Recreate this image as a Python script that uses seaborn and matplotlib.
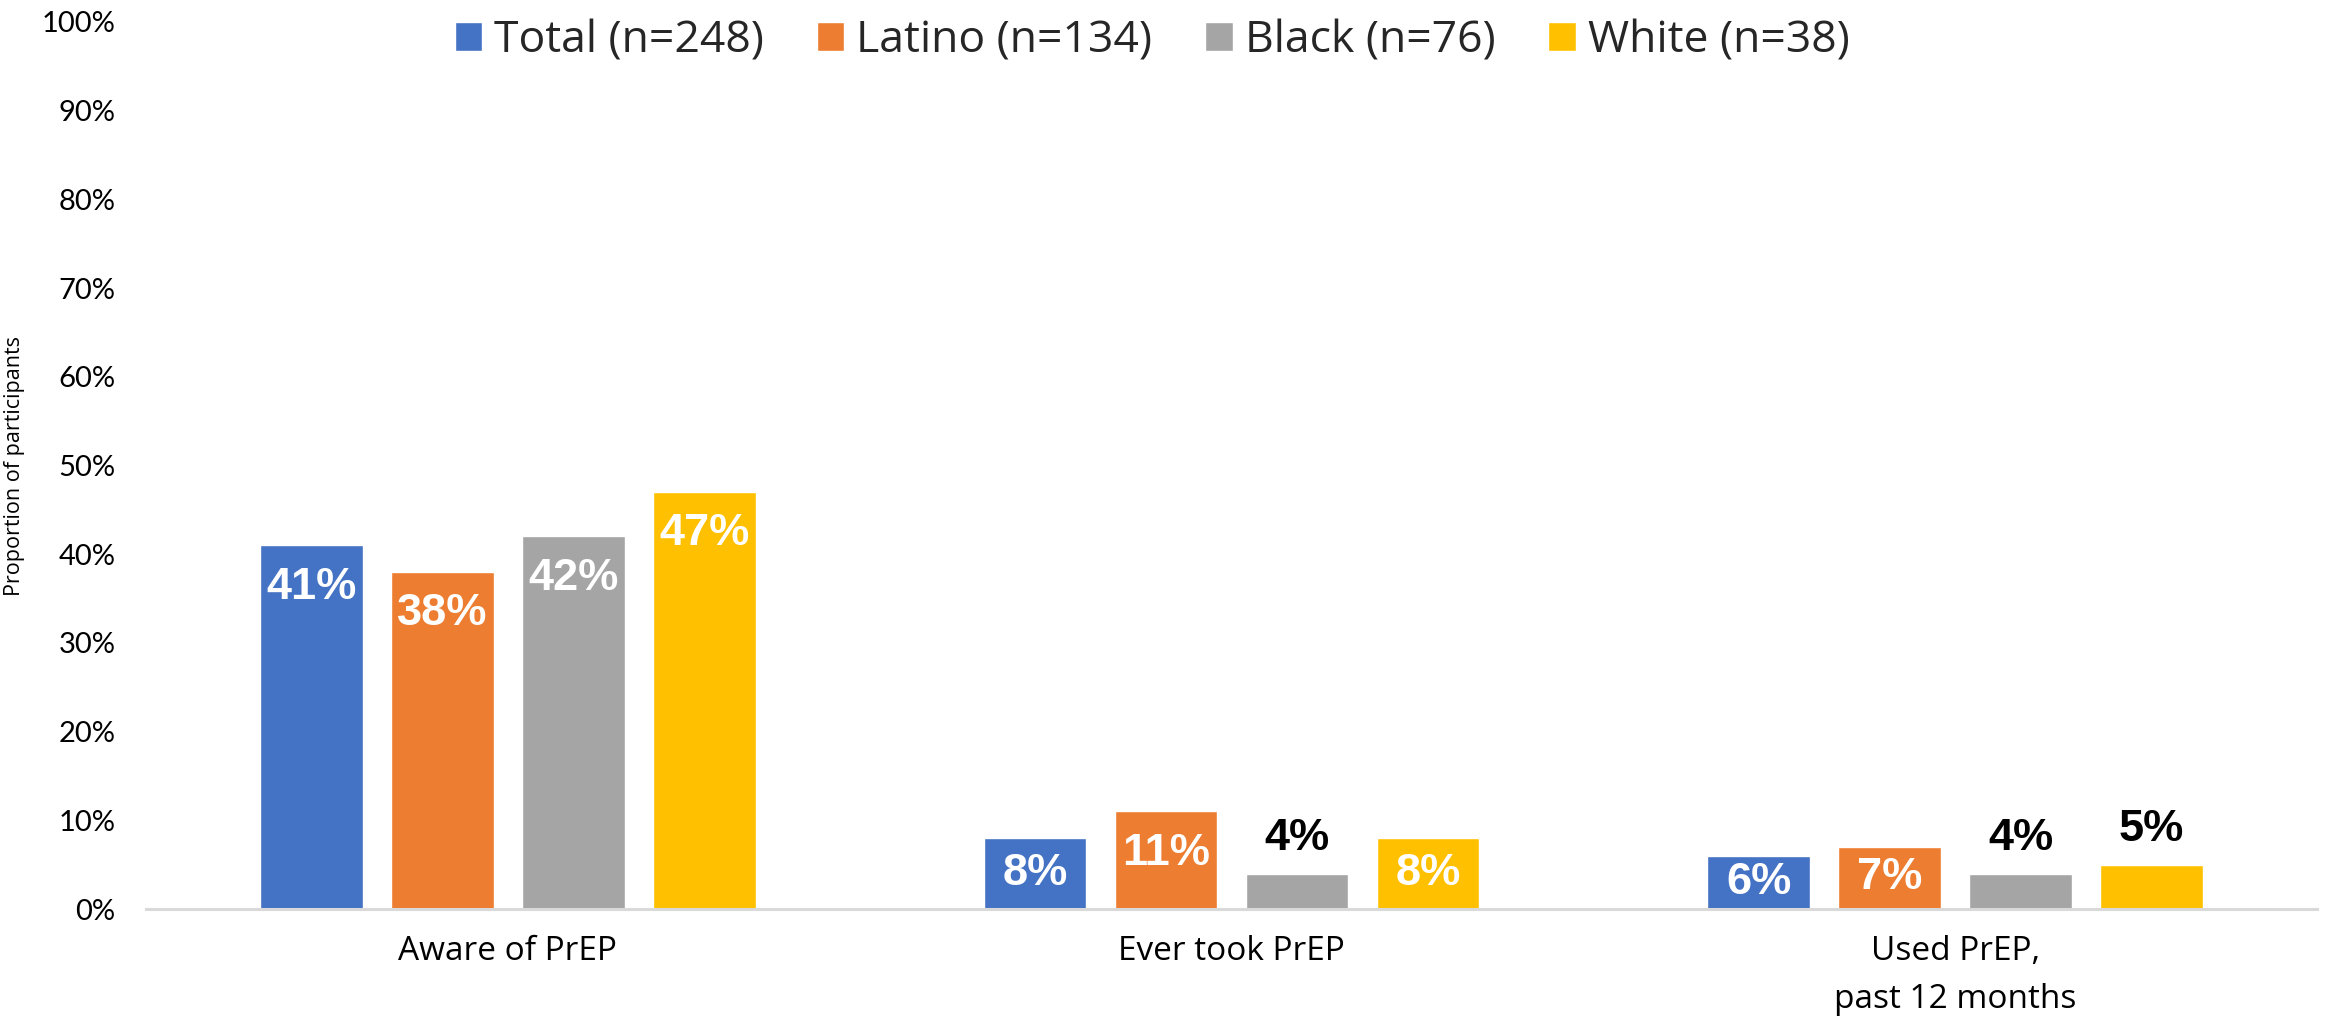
import matplotlib
matplotlib.use("Agg")
import matplotlib.pyplot as plt
import seaborn as sns
import pandas as pd

categories = ["Aware of PrEP", "Ever took PrEP", "Used PrEP,\npast 12 months"]
groups = ["Total (n=248)", "Latino (n=134)", "Black (n=76)", "White (n=38)"]
total = [41, 8, 6]
latino = [38, 11, 7]
black = [42, 4, 4]
white = [47, 8, 5]
colors = ["#4472C4", "#ED7D31", "#A5A5A5", "#FFC000"]
yticks = [0, 10, 20, 30, 40, 50, 60, 70, 80, 90, 100]
ytick_labels = [f"{t}%" for t in yticks]

rows = []
for g, vals in zip(groups, [total, latino, black, white]):
    for c, v in zip(categories, vals):
        rows.append({"category": c, "group": g, "value": v})
df = pd.DataFrame(rows)

sns.set_theme(style="white")
plt.rcParams["font.family"] = ["Lato", "DejaVu Sans"]

fig = plt.figure(figsize=(23.31, 10.21), dpi=100)
ax = fig.add_axes([146 / 2331, 112 / 1021, 2171 / 2331, 887 / 1021])

sns.barplot(data=df, x="category", y="value", hue="group", order=categories,
            hue_order=groups, palette=colors, width=0.724, gap=0.215,
            saturation=1, ax=ax, legend=True)

ax.set_ylim(0, 100)
ax.set_xlim(-0.5, len(categories) - 0.5)
ax.set_yticks(yticks)
ax.set_yticklabels(ytick_labels)
ax.tick_params(axis="y", length=0, pad=22, labelsize=21, labelcolor="#000000")
ax.tick_params(axis="x", length=0, pad=19, labelsize=24, labelcolor="#000000")
for lab in ax.get_xticklabels():
    lab.set_family(["Open Sans", "DejaVu Sans"])
    lab.set_linespacing(1.6)
ax.set_xlabel("")
ax.set_ylabel("Proportion of participants", fontsize=15.5,
              family=["Open Sans", "DejaVu Sans"], color="#000000")
ax.yaxis.set_label_coords(-0.0557, 0.5)

for side in ["left", "right", "top"]:
    ax.spines[side].set_visible(False)
ax.spines["bottom"].set_color("#D9D9D9")
ax.spines["bottom"].set_linewidth(2.2)
ax.grid(False)

for container in ax.containers:
    for bar in container:
        h = bar.get_height()
        xc = bar.get_x() + bar.get_width() / 2
        if h <= 5:
            ax.text(xc, h + 4.0, f"{h:.0f}%", ha="center", va="center",
                    fontsize=32.5, fontweight="bold", color="black",
                    family=["Liberation Sans", "DejaVu Sans"])
        else:
            yc = max(h - 4.7, h / 2)
            ax.text(xc, yc, f"{h:.0f}%", ha="center", va="center",
                    fontsize=32.5, fontweight="bold", color="white",
                    family=["Liberation Sans", "DejaVu Sans"])

handles, labels = ax.get_legend_handles_labels()
if ax.get_legend() is not None:
    ax.get_legend().remove()
fig.legend(handles, labels, ncol=4, loc="center",
           bbox_to_anchor=(1152 / 2331, 1 - 41 / 1021), frameon=False,
           prop={"family": ["Open Sans", "DejaVu Sans"], "size": 32},
           handlelength=0.61, handleheight=0.61, handletextpad=0.27,
           columnspacing=1.2, borderaxespad=0)

fig.savefig("out.png", dpi=100, facecolor="white")
